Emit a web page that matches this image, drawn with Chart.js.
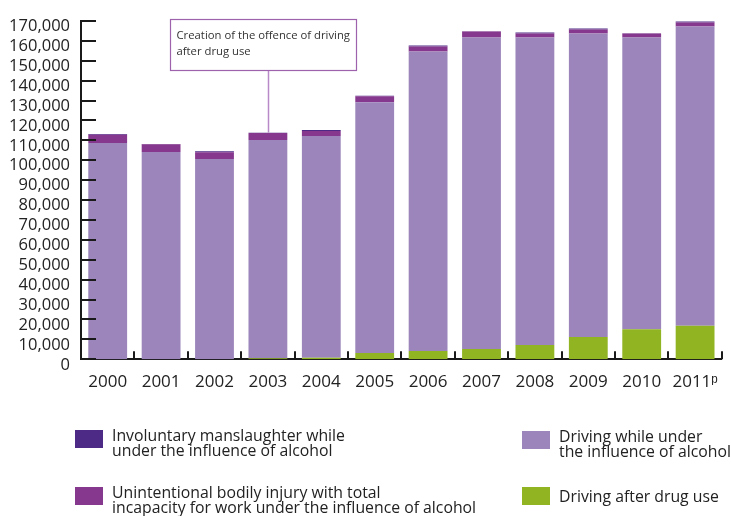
<!DOCTYPE html>
<html>
<head>
<meta charset="utf-8">
<script src="https://cdn.jsdelivr.net/npm/chart.js@4/dist/chart.umd.min.js"></script>
<style>
  html, body { margin: 0; padding: 0; background: #fff; }
  #wrap { position: relative; width: 731px; height: 516px; overflow: hidden; }
  #c { position: absolute; left: 0; top: 0; }
  .item { position: absolute; font-family: 'Open Sans', sans-serif; font-size: 15.8px; line-height: 15px; color: #222; white-space: nowrap; }
  .sw { position: absolute; width: 28px; height: 18px; }
</style>
</head>
<body>
<div id="wrap">
  <canvas id="c" width="731" height="516"></canvas>
</div>
<script>
// Years on the x axis (2011 is provisional)
const years = ['2000', '2001', '2002', '2003', '2004', '2005', '2006', '2007', '2008', '2009', '2010', '2011\u1d56'];

// Offences per year, stacked bottom to top
const drugDriving      = [0, 0, 0, 500, 800, 3150, 4150, 5150, 7150, 11150, 15150, 16800];
const drinkDriving     = [108650, 104150, 100650, 109650, 111350, 126000, 150500, 156500, 154500, 152500, 146500, 150350];
const injuryAlcohol    = [4150, 3850, 3350, 3500, 2500, 3000, 2500, 3000, 2000, 2000, 2000, 2000];
const manslaughterAlc  = [400, 200, 500, 200, 500, 200, 500, 200, 500, 500, 200, 500];

const labelDrug        = ['Driving after drug use'];
const labelDrink       = ['Driving while under', 'the influence of alcohol'];
const labelInjury      = ['Unintentional bodily injury with total', 'incapacity for work under the influence of alcohol'];
const labelManslaughter = ['Involuntary manslaughter while', 'under the influence of alcohol'];

const noteLines = ['Creation of the offence of driving', 'after drug use'];
const noteYearIndex = 3;

const COLORS = {
  drug: '#91b423',
  drink: '#9b85bb',
  injury: '#86378e',
  manslaughter: '#4c2a85'
};

const FONT = "'Open Sans', sans-serif";

// Inward tick marks on both axes plus the annotation box
const decorations = {
  id: 'decorations',
  afterDraw(chart) {
    const { ctx, chartArea: a, scales: { x, y } } = chart;
    ctx.save();
    ctx.strokeStyle = '#1a1a1a';
    ctx.lineWidth = 2;
    // y ticks pointing into the plot
    y.ticks.forEach(t => {
      const py = Math.round(y.getPixelForValue(t.value));
      ctx.beginPath();
      ctx.moveTo(a.left, py);
      ctx.lineTo(a.left + 15, py);
      ctx.stroke();
    });
    // x ticks at category boundaries
    const n = years.length;
    const w = (a.right - a.left) / n;
    for (let i = 1; i <= n; i++) {
      const px = Math.round(a.left + i * w);
      ctx.beginPath();
      ctx.moveTo(px, a.bottom);
      ctx.lineTo(px, a.bottom - 8);
      ctx.stroke();
    }

    // Annotation
    const cx = x.getPixelForValue(noteYearIndex);
    const total = drugDriving[noteYearIndex] + drinkDriving[noteYearIndex] +
                  injuryAlcohol[noteYearIndex] + manslaughterAlc[noteYearIndex];
    const topY = y.getPixelForValue(total);
    const bw = 186, bh = 51, bx = Math.round(cx - 97.5) + 0.5, by = 19.5;
    ctx.strokeStyle = '#b88ac8';
    ctx.lineWidth = 1.5;
    ctx.beginPath();
    ctx.moveTo(Math.round(cx) + 0.5, by + bh);
    ctx.lineTo(Math.round(cx) + 0.5, topY);
    ctx.stroke();
    ctx.fillStyle = '#fff';
    ctx.fillRect(bx, by, bw, bh);
    ctx.strokeStyle = '#9d62ab';
    ctx.lineWidth = 1.2;
    ctx.strokeRect(bx, by, bw, bh);
    ctx.fillStyle = '#333';
    ctx.font = '11.3px ' + FONT;
    ctx.textBaseline = 'middle';
    ctx.textAlign = 'left';
    noteLines.forEach((line, i) => ctx.fillText(line, bx + 6, by + 16 + i * 16));
    ctx.restore();
  }
};

new Chart(document.getElementById('c'), {
  type: 'bar',
  data: {
    labels: years,
    datasets: [
      { label: labelDrug.join(' '), data: drugDriving, backgroundColor: COLORS.drug },
      { label: labelDrink.join(' '), data: drinkDriving, backgroundColor: COLORS.drink },
      { label: labelInjury.join(' '), data: injuryAlcohol, backgroundColor: COLORS.injury },
      { label: labelManslaughter.join(' '), data: manslaughterAlc, backgroundColor: COLORS.manslaughter }
    ]
  },
  options: {
    responsive: false,
    animation: false,
    events: [],
    layout: { padding: { top: 19.3, right: 6, left: 0, bottom: 0 } },
    datasets: { bar: { categoryPercentage: 1, barPercentage: 0.727, borderWidth: 0 } },
    plugins: { legend: { display: false }, tooltip: { enabled: false } },
    scales: {
      x: {
        stacked: true,
        grid: { display: false, drawTicks: false },
        border: { display: true, color: '#1a1a1a', width: 2 },
        ticks: { color: '#222', font: { family: FONT, size: 17 }, padding: 13, maxRotation: 0, autoSkip: false },
        afterFit(s) { s.height = 156.7; }
      },
      y: {
        stacked: true,
        min: 0,
        max: 170000,
        grid: { display: false, drawTicks: false },
        border: { display: true, color: '#1a1a1a', width: 2 },
        ticks: {
          stepSize: 10000,
          autoSkip: false,
          color: '#222',
          padding: 11,
          labelOffset: 5.5,
          font: { family: FONT, size: 16.5 },
          callback: v => v.toLocaleString('en-US')
        },
        afterFit(s) { s.width = 81; }
      }
    }
  },
  plugins: [decorations]
});

// Legend in two columns
const legendItems = [
  { color: COLORS.manslaughter, lines: labelManslaughter, left: 75, top: 430 },
  { color: COLORS.injury, lines: labelInjury, left: 75, top: 487 },
  { color: COLORS.drink, lines: labelDrink, left: 522, top: 431 },
  { color: COLORS.drug, lines: labelDrug, left: 522, top: 487 }
];
const wrap = document.getElementById('wrap');
legendItems.forEach(it => {
  const sw = document.createElement('div');
  sw.className = 'sw';
  sw.style.left = it.left + 'px';
  sw.style.top = it.top + 'px';
  sw.style.background = it.color;
  wrap.appendChild(sw);
  const tx = document.createElement('div');
  tx.className = 'item';
  tx.style.left = (it.left + 37) + 'px';
  tx.style.top = (it.top + (it.lines.length === 1 ? 2 : -2)) + 'px';
  tx.innerHTML = it.lines.map(l => l.replace(/&/g, '&amp;')).join('<br>');
  wrap.appendChild(tx);
});
</script>
</body>
</html>
